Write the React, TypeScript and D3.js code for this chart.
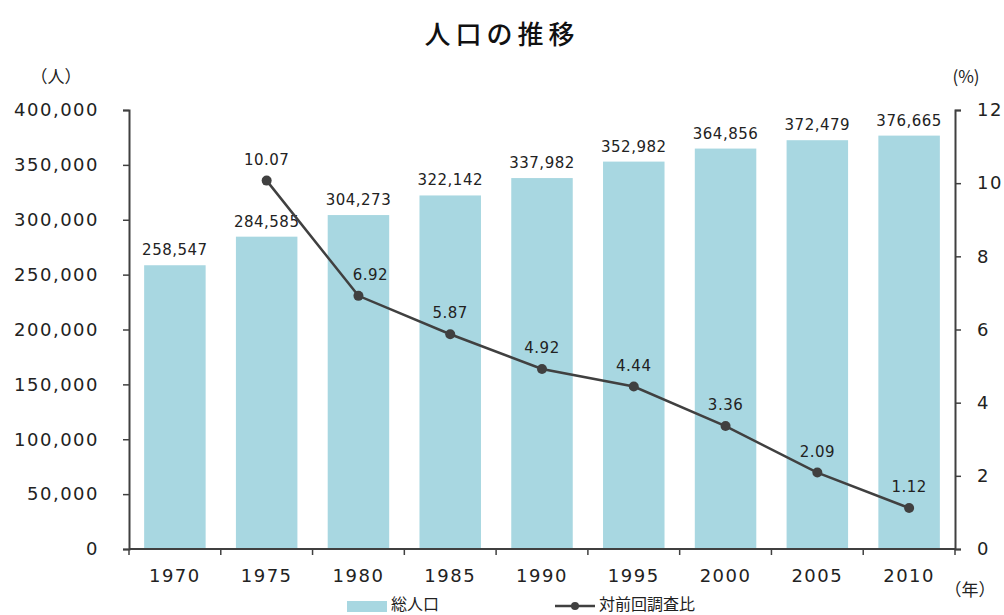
import * as d3 from 'd3';
import * as React from 'react';

const years = ['1970', '1975', '1980', '1985', '1990', '1995', '2000', '2005', '2010'];
const population = [258547, 284585, 304273, 322142, 337982, 352982, 364856, 372479, 376665];
const changeRate: (number | null)[] = [null, 10.07, 6.92, 5.87, 4.92, 4.44, 3.36, 2.09, 1.12];
const leftTicks = [0, 50000, 100000, 150000, 200000, 250000, 300000, 350000, 400000];
const rightTicks = [0, 2, 4, 6, 8, 10, 12];

const NUM_FONT = '"DejaVu Sans", Verdana, sans-serif';
const JP_FONT = '"Noto Sans CJK JP", sans-serif';
const BAR_COLOR = '#a8d7e1';
const INK = '#404040';

const App = () => {
  const ref = React.useRef<SVGSVGElement | null>(null);

  React.useEffect(() => {
    if (!ref.current) return;
    const svg = d3.select(ref.current);
    svg.selectAll('*').remove();

    const margin = { top: 110, right: 49, bottom: 66, left: 129 };
    const width = 1004 - margin.left - margin.right;
    const height = 615 - margin.top - margin.bottom;

    const g = svg.append('g').attr('transform', `translate(${margin.left},${margin.top})`);

    const x = d3.scaleBand().domain(years).range([0, width]).paddingInner(0.33).paddingOuter(0.165);
    const xb = d3.scaleBand().domain(years).range([0, width]);
    const yL = d3.scaleLinear().domain([0, 400000]).range([height, 0]);
    const yR = d3.scaleLinear().domain([0, 12]).range([height, 0]);

    // bars
    g.selectAll('.bar')
      .data(population)
      .enter()
      .append('rect')
      .attr('x', (d, i) => x(years[i]) as number)
      .attr('y', (d) => yL(d))
      .attr('width', x.bandwidth())
      .attr('height', (d) => height - yL(d))
      .attr('fill', BAR_COLOR);

    g.selectAll('.barlabel')
      .data(population)
      .enter()
      .append('text')
      .attr('x', (d, i) => (x(years[i]) as number) + x.bandwidth() / 2)
      .attr('y', (d) => yL(d) - 10)
      .attr('text-anchor', 'middle')
      .style('font-family', NUM_FONT)
      .style('font-size', '15px')
      .style('letter-spacing', '0.5px')
      .style('fill', '#222')
      .text((d) => d3.format(',')(d));

    // axes
    const styleAxis = (sel) => {
      sel.select('.domain').attr('stroke', INK).attr('stroke-width', 2);
      sel.selectAll('.tick line').attr('stroke', INK).attr('stroke-width', 1.5);
      sel.selectAll('.tick text')
        .style('font-family', NUM_FONT)
        .style('font-size', '18px')
        .style('letter-spacing', '1.5px')
        .style('fill', '#222');
    };

    g.append('g')
      .call(d3.axisLeft(yL).tickValues(leftTicks).tickSize(6).tickSizeOuter(6).tickPadding(24).tickFormat(d3.format(',')))
      .call(styleAxis);

    g.append('g')
      .attr('transform', `translate(${width},0)`)
      .call(d3.axisRight(yR).tickValues(rightTicks).tickSize(6).tickSizeOuter(6).tickPadding(16))
      .call(styleAxis);

    const xAxis = g.append('g').attr('transform', `translate(0,${height})`);
    xAxis.append('line').attr('x1', 0).attr('x2', width).attr('stroke', INK).attr('stroke-width', 2);
    xAxis.selectAll('.xtick')
      .data(d3.range(years.length + 1))
      .enter()
      .append('line')
      .attr('x1', (i) => i * xb.bandwidth())
      .attr('x2', (i) => i * xb.bandwidth())
      .attr('y1', 0)
      .attr('y2', 6)
      .attr('stroke', INK)
      .attr('stroke-width', 1.5);
    xAxis.selectAll('.xlabel')
      .data(years)
      .enter()
      .append('text')
      .attr('x', (d) => (xb(d) as number) + xb.bandwidth() / 2)
      .attr('y', 33)
      .attr('text-anchor', 'middle')
      .style('font-family', NUM_FONT)
      .style('font-size', '18px')
      .style('letter-spacing', '1.5px')
      .style('fill', '#222')
      .text((d) => d);

    // line
    const pts = changeRate
      .map((v, i) => ({ year: years[i], v }))
      .filter((p) => p.v !== null) as { year: string; v: number }[];
    const cx = (p) => (xb(p.year) as number) + xb.bandwidth() / 2;

    g.append('path')
      .datum(pts)
      .attr('fill', 'none')
      .attr('stroke', INK)
      .attr('stroke-width', 2.5)
      .attr('d', d3.line<{ year: string; v: number }>().x(cx).y((p) => yR(p.v)));

    g.selectAll('.dot')
      .data(pts)
      .enter()
      .append('circle')
      .attr('cx', cx)
      .attr('cy', (p) => yR(p.v))
      .attr('r', 5)
      .attr('fill', INK);

    g.selectAll('.linelabel')
      .data(pts)
      .enter()
      .append('text')
      .attr('x', (p) => cx(p) + (p.year === '1980' ? 12 : 0))
      .attr('y', (p) => yR(p.v) - 16)
      .attr('text-anchor', 'middle')
      .style('font-family', NUM_FONT)
      .style('font-size', '15px')
      .style('letter-spacing', '0.5px')
      .style('fill', '#222')
      .text((p) => p.v.toFixed(2));

    // title and units
    svg.append('text')
      .attr('x', 502)
      .attr('y', 44)
      .attr('text-anchor', 'middle')
      .style('font-family', JP_FONT)
      .style('font-size', '26px')
      .style('font-weight', 500)
      .style('letter-spacing', '5px')
      .style('fill', '#111')
      .text('人口の推移');

    const unit = (tx, ty, t) =>
      svg.append('text')
        .attr('x', tx)
        .attr('y', ty)
        .attr('text-anchor', 'middle')
        .style('font-family', JP_FONT)
        .style('font-size', '17px')
        .style('fill', '#222')
        .text(t);
    unit(56, 83, '（人）');
    unit(966, 83, '(%)');
    unit(970, 596, '（年）');

    // legend
    const lg = svg.append('g');
    lg.append('rect').attr('x', 347).attr('y', 601).attr('width', 40).attr('height', 11).attr('fill', BAR_COLOR);
    lg.append('text')
      .attr('x', 391)
      .attr('y', 610)
      .style('font-family', JP_FONT)
      .style('font-size', '16px')
      .style('fill', '#222')
      .text('総人口');
    lg.append('line').attr('x1', 555).attr('x2', 595).attr('y1', 606).attr('y2', 606).attr('stroke', INK).attr('stroke-width', 2.5);
    lg.append('circle').attr('cx', 575).attr('cy', 606).attr('r', 4).attr('fill', INK);
    lg.append('text')
      .attr('x', 599)
      .attr('y', 610)
      .style('font-family', JP_FONT)
      .style('font-size', '16px')
      .style('fill', '#222')
      .text('対前回調査比');
  }, []);

  return (
    <svg
      ref={ref}
      width={1004}
      height={615}
      style={{ position: 'absolute', left: 0, top: 0, display: 'block', background: '#fff' }}
    />
  );
};

export default App;
